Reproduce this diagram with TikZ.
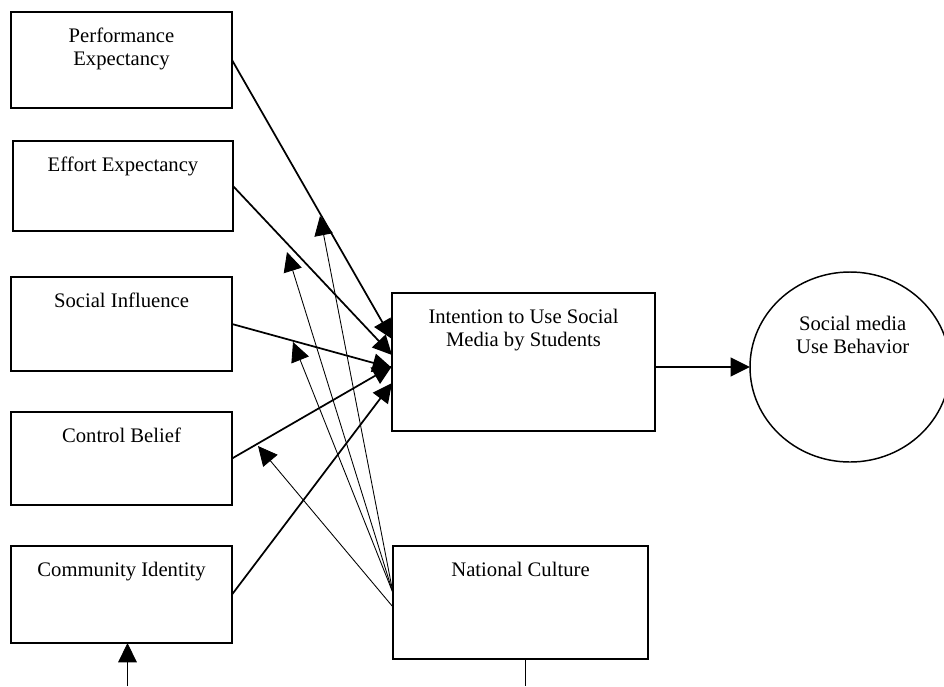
\documentclass[tikz,border=0pt]{standalone}
\usepackage{fontspec}
\setmainfont{Liberation Serif}
\usetikzlibrary{arrows.meta,shapes.geometric,calc}
\begin{document}
\begin{tikzpicture}[x=0.75pt,y=-0.75pt,
  every node/.style={font=\fontsize{15.5}{17.25}\selectfont},
  box/.style={draw,line width=1.1pt,rectangle,inner sep=0pt,outer sep=0pt},
  boxtext/.style={anchor=north,inner sep=0pt,align=center,yshift=-11.7pt},
  mainarrow/.style={line width=1.3pt,-{Triangle[length=14.5pt,width=14pt]}},
  modarrow/.style={line width=0.65pt,-{Triangle[length=14.5pt,width=14pt]}},
  thinline/.style={line width=0.65pt},
]
\useasboundingbox[fill=white] (0,0) rectangle (944,686);

% boxes
\node[box,minimum width=165.75pt,minimum height=72pt] (pe) at (121.5,60) {};
\node[box,minimum width=165pt,minimum height=67.5pt] (ee) at (123,186) {};
\node[box,minimum width=165.75pt,minimum height=70.5pt] (si) at (121.5,324) {};
\node[box,minimum width=165.75pt,minimum height=69.75pt] (cb) at (121.5,458.5) {};
\node[box,minimum width=165.75pt,minimum height=72.75pt] (ci) at (121.5,594.5) {};
\node[box,minimum width=197.25pt,minimum height=103.5pt] (int) at (523.5,362) {};
\node[box,minimum width=191.25pt,minimum height=84.75pt] (nc) at (520.5,602.5) {};
\node[draw,line width=1.1pt,ellipse,inner sep=0pt,outer sep=0pt,minimum width=150pt,minimum height=142.5pt] (beh) at (850,367) {};

% texts
\node[boxtext] (pe-t) at (pe.north) {Performance\\Expectancy};
\node[boxtext] (ee-t) at (ee.north) {Effort Expectancy};
\node[boxtext] (si-t) at (si.north) {Social Influence};
\node[boxtext] (cb-t) at (cb.north) {Control Belief};
\node[boxtext] (ci-t) at (ci.north) {Community Identity};
\node[boxtext] (int-t) at (int.north) {Intention to Use Social\\Media by Students};
\node[boxtext] (nc-t) at (nc.north) {National Culture};
\node[boxtext,yshift=-21pt] (beh-t) at ([xshift=2pt]beh.north) {Social media\\Use Behavior};

% main paths
\draw[mainarrow] (pe.east) -- ($(int.west)+(0,-23)$);
\draw[mainarrow] (ee.east) -- ($(int.west)+(0,-7)$);
\draw[mainarrow] (si.east) -- ($(int.west)+(0,6)$);
\draw[mainarrow] (cb.east) -- ($(int.west)+(0,4)$);
\draw[mainarrow] (ci.east) -- ($(int.west)+(0,21)$);
\draw[mainarrow] (int.east |- beh.west) -- (beh.west);

% moderating paths
\coordinate (t1) at (320,216);
\coordinate (t2) at (287,252);
\coordinate (t3) at (293,342);
\coordinate (t4) at (258,446);
\coordinate (s1) at ($(nc.west)+(0,-9.5)$);
\coordinate (s2) at ($(nc.west)+(0,4.5)$);
\draw[modarrow] (s1) -- (t1);
\draw[modarrow] (s1) -- (t2);
\draw[modarrow] (s1) -- (t3);
\draw[modarrow] (s2) -- (t4);

% bottom lines
\coordinate (b1) at (127.5,686);
\coordinate (b2) at (525,686);
\draw[modarrow] (b1) -- (b1 |- ci.south);
\draw[thinline] (nc.south -| b2) -- (b2);
\end{tikzpicture}
\end{document}
